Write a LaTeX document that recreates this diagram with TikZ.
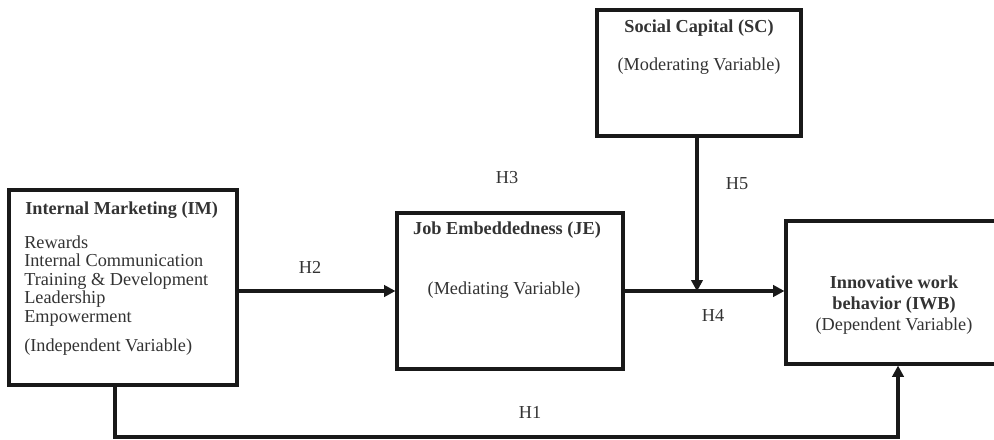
\documentclass[tikz,border=0pt]{standalone}
\usepackage{fontspec}
\setmainfont{Liberation Serif}
\usetikzlibrary{arrows.meta,calc}
\begin{document}
\begin{tikzpicture}[x=0.75pt,y=-0.75pt,
  box/.style={draw=black!90,line width=2.3pt,rectangle,inner sep=0pt,fill=white},
  txt/.style={text=black!80,inner sep=0pt,font=\fontsize{13.7}{14}\selectfont},
  btxt/.style={txt,font=\fontsize{13.7}{14}\selectfont\bfseries},
  arr/.style={line width=2.7pt,draw=black!90,-{Triangle[length=8.5pt,width=8.5pt]}},
  lbl/.style={txt}]
\clip (0,0) rectangle (994,439);
\fill[white] (0,0) rectangle (994,439);
% boxes
\node[box,minimum width=171pt,minimum height=146.25pt] (IM) at (123,287.5) {};
\node[box,minimum width=169.5pt,minimum height=117pt] (JE) at (510,291) {};
\node[box,minimum width=153pt,minimum height=94.5pt] (SC) at (699,73) {};
\node[box,minimum width=168pt,minimum height=107.25pt] (IWB) at (898,292.5) {};
% texts
\node[btxt,anchor=west] (imt) at (25,210) {Internal Marketing (IM)};
\node[txt,anchor=west,align=left,font=\fontsize{13.7}{13.9}\selectfont] (iml) at (24,281)
  {Rewards\\Internal Communication\\Training \& Development\\Leadership\\Empowerment};
\node[txt,anchor=west] (imv) at (24,347) {(Independent Variable)};
\node[btxt] (jet) at (507,230) {Job Embeddedness (JE)};
\node[txt] (jev) at (504,290) {(Mediating Variable)};
\node[btxt] (sct) at (699,28) {Social Capital (SC)};
\node[txt] (scv) at (699,66) {(Moderating Variable)};
\node[btxt,align=center,font=\fontsize{13.7}{16}\selectfont\bfseries] (iwbt) at (894,294.5) {Innovative work\\behavior (IWB)};
\node[txt] (iwbv) at (894,326) {(Dependent Variable)};
% connectors
\coordinate (j) at (697,290);
\coordinate (b) at (0,437);
\draw[arr] (IM.east |- JE.west) -- (JE.west);
\draw[arr] (JE.east) -- (JE.east -| IWB.west);
\draw[arr] (j |- SC.south) -- ([yshift=-1pt]j);
\draw[arr] ([xshift=-6pt]IM.south) -- ([xshift=-6pt]IM.south |- b) -| (IWB.south);
% labels
\node[lbl] (h1) at (530,412) {H1};
\node[lbl] (h2) at (310,267) {H2};
\node[lbl] (h3) at (507,178) {H3};
\node[lbl] (h4) at (713,315) {H4};
\node[lbl] (h5) at (737,184) {H5};
\end{tikzpicture}
\end{document}
